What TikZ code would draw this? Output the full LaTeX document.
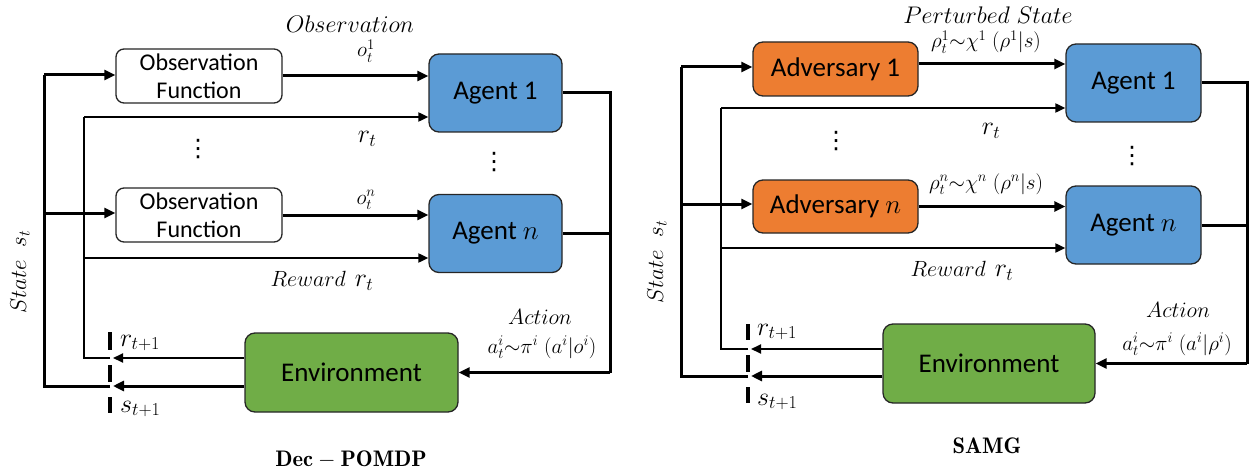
\RequirePackage{fix-cm}
\documentclass[tikz,border=0pt]{standalone}
\usepackage{fontspec}
\newfontfamily\boxfont{Carlito}
\newfontfamily\symfont{DejaVu Sans}
\usetikzlibrary{arrows.meta}
\definecolor{agentblue}{HTML}{5B9BD5}
\definecolor{advorange}{HTML}{ED7D31}
\definecolor{envgreen}{HTML}{70AD47}
\begin{document}
\begin{tikzpicture}[x=1pt,y=-1pt,
  box/.style={draw=black!85, line width=1.3pt, rounded corners=10pt, align=center, inner sep=0pt},
  obsbox/.style={box, fill=white, rounded corners=8pt, minimum width=166pt, minimum height=54pt, font=\boxfont\fontsize{24}{28}\selectfont},
  agentbox/.style={box, fill=agentblue, minimum width=133pt, minimum height=78pt, font=\boxfont\fontsize{27}{32}\selectfont},
  advbox/.style={box, fill=advorange, minimum width=165pt, minimum height=54pt, font=\boxfont\fontsize{27}{32}\selectfont},
  envbox/.style={box, fill=envgreen, minimum width=212pt, minimum height=79pt, font=\boxfont\fontsize{27}{32}\selectfont},
  heavy/.style={line width=3pt, line join=miter},
  light/.style={line width=2pt, line join=miter},
  harr/.style={heavy, -{Triangle[length=11pt,width=10pt]}},
  larr/.style={light, -{Triangle[length=10pt,width=9pt]}},
  marker/.style={line width=4pt},
  lab/.style={inner sep=0pt, font=\fontsize{22}{26}\selectfont},
  smalllab/.style={inner sep=0pt, font=\fontsize{21}{24}\selectfont},
  rlab/.style={inner sep=0pt, font=\fontsize{26}{30}\selectfont},
  sublab/.style={inner sep=0pt, anchor=west, font=\fontsize{26}{30}\selectfont},
  dotslab/.style={inner sep=0pt, font=\symfont\fontsize{24}{28}\selectfont},
  title/.style={inner sep=0pt, font=\fontsize{22.5}{26}\selectfont},
]
\useasboundingbox (0,0) rectangle (1252,476);

% ================= LEFT: Dec-POMDP =================
\node[obsbox] (obs1) at (199,76) {Observation\\Function};
\node[obsbox] (obs2) at (199,215) {Observation\\Function};
\node[agentbox] (ag1L) at (495.5,93) {Agent 1};
\node[agentbox] (agnL) at (495.5,233.5) {Agent $n$};
\node[envbox, minimum width=213pt] (envL) at (351.5,372.5) {Environment};

\coordinate (sL1) at (44,75);
\coordinate (sL2) at (44,213);
\coordinate (sLb) at (44,386);
\coordinate (rL1) at (84,117);
\coordinate (rL2) at (84,258);
\coordinate (rLb) at (84,358);
\coordinate (mLr) at (110,358);
\coordinate (mLs) at (110,386);
\coordinate (bL1) at (610,93);
\coordinate (bL2) at (610,233.5);
\coordinate (bLb) at (610,372.5);

% state feedback
\draw[heavy] (mLs) -- (sLb) -- (sL1);
\draw[harr] (sL1) -- (sL1 -| obs1.west);
\draw[harr] (sL2) -- (sL2 -| obs2.west);
% observations
\draw[harr] (obs1.east) -- (obs1.east -| ag1L.west);
\draw[harr] (obs2.east) -- (obs2.east -| agnL.west);
% reward
\draw[light] (mLr) -- (rLb) -- (rL1);
\draw[larr] (rL1) -- (rL1 -| ag1L.west);
\draw[larr] (rL2) -- (rL2 -| agnL.west);
% action bus
\draw[heavy] (ag1L.east) -- (bL1) -- (bLb);
\draw[heavy] (agnL.east) -- (bL2);
\draw[harr] (bLb) -- (envL.east);
% environment outputs
\draw[larr] (envL.west |- mLr) -- ([xshift=3pt]mLr);
\draw[harr] (envL.west |- mLs) -- ([xshift=3pt]mLs);
% marker
\draw[marker] (110,332) -- (110,350) (110,365) -- (110,382) (110,397) -- (110,413);

% labels
\node[lab, font=\fontsize{24}{28}\selectfont] (tObsL) at (350,24) {$Observation$};
\node[smalllab] (o1L) at (366,51) {$o_t^1$};
\node[rlab] (rtL) at (367,139) {$r_t$};
\node[smalllab] (onL) at (366,200) {$o_t^n$};
\node[dotslab] (vd1L) at (198,149) {⋮};
\node[dotslab] (vd2L) at (494,162) {⋮};
\node[lab] (rewL) at (322,281) {$Reward$\hspace{9pt}{\fontsize{26}{30}\selectfont$r_t$}};
\node[lab] (actL) at (540,317) {$Action$};
\node[smalllab] (aL) at (542,347) {$a_t^i{\sim}\pi^i\;(a^i|o^i)$};
\node[sublab] (r1L) at (120,343) {$r_{t+1}$};
\node[sublab] (s1L) at (120,409) {$s_{t+1}$};
\node[lab, font=\fontsize{23}{27}\selectfont, rotate=90] (stL) at (20,272) {$State\;\;s_t$};
\node[title] (tDec) at (351,460) {$\mathbf{Dec-POMDP}$};

% ================= RIGHT: SAMG =================
\node[advbox] (adv1) at (835.5,69) {Adversary 1};
\node[advbox, minimum height=53pt] (advn) at (835.5,206.5) {Adversary $n$};
\node[agentbox, minimum width=135pt] (ag1R) at (1133.5,83) {Agent 1};
\node[agentbox, minimum width=135pt] (agnR) at (1133.5,225) {Agent $n$};
\node[envbox] (envR) at (989,363.5) {Environment};

\coordinate (sR1) at (681,67);
\coordinate (sR2) at (681,204);
\coordinate (sRb) at (681,376);
\coordinate (rR1) at (721,108);
\coordinate (rR2) at (721,248);
\coordinate (rRb) at (721,349);
\coordinate (mRr) at (748,349);
\coordinate (mRs) at (748,376);
\coordinate (bR1) at (1247,83);
\coordinate (bR2) at (1247,225);
\coordinate (bRb) at (1247,363.5);
\coordinate (a1o) at ([yshift=5pt]adv1.east);

\draw[heavy] (mRs) -- (sRb) -- (sR1);
\draw[harr] (sR1) -- (sR1 -| adv1.west);
\draw[harr] (sR2) -- (sR2 -| advn.west);
\draw[harr] (a1o) -- (a1o -| ag1R.west);
\draw[harr] (advn.east) -- (advn.east -| agnR.west);
\draw[light] (mRr) -- (rRb) -- (rR1);
\draw[larr] (rR1) -- (rR1 -| ag1R.west);
\draw[larr] (rR2) -- (rR2 -| agnR.west);
\draw[heavy] (ag1R.east) -- (bR1) -- (bRb);
\draw[heavy] (agnR.east) -- (bR2);
\draw[harr] (bRb) -- (envR.east);
\draw[larr] (envR.west |- mRr) -- ([xshift=3pt]mRr);
\draw[harr] (envR.west |- mRs) -- ([xshift=3pt]mRs);
\draw[marker] (748,324) -- (748,340) (748,355) -- (748,372) (748,387) -- (748,403);

\node[lab, font=\fontsize{24}{28}\selectfont] (tPert) at (988,15) {$Perturbed\;State$};
\node[smalllab] (rho1) at (986,42) {$\rho_t^1{\sim}\chi^1\;(\rho^1|s)$};
\node[rlab] (rtR) at (991,131) {$r_t$};
\node[smalllab] (rhon) at (986,184) {$\rho_t^n{\sim}\chi^n\;(\rho^n|s)$};
\node[dotslab] (vd1R) at (836,141) {⋮};
\node[dotslab] (vd2R) at (1132,156) {⋮};
\node[lab] (rewR) at (962,271) {$Reward$\hspace{9pt}{\fontsize{26}{30}\selectfont$r_t$}};
\node[lab] (actR) at (1178,310) {$Action$};
\node[smalllab] (aR) at (1177,344) {$a_t^i{\sim}\pi^i\;(a^i|\rho^i)$};
\node[sublab] (r1R) at (757,332) {$r_{t+1}$};
\node[sublab] (s1R) at (757,402) {$s_{t+1}$};
\node[lab, font=\fontsize{23}{27}\selectfont, rotate=90] (stR) at (657,262) {$State\;\;s_t$};
\node[title] (tSAMG) at (987,446) {$\mathbf{SAMG}$};
\end{tikzpicture}
\end{document}
